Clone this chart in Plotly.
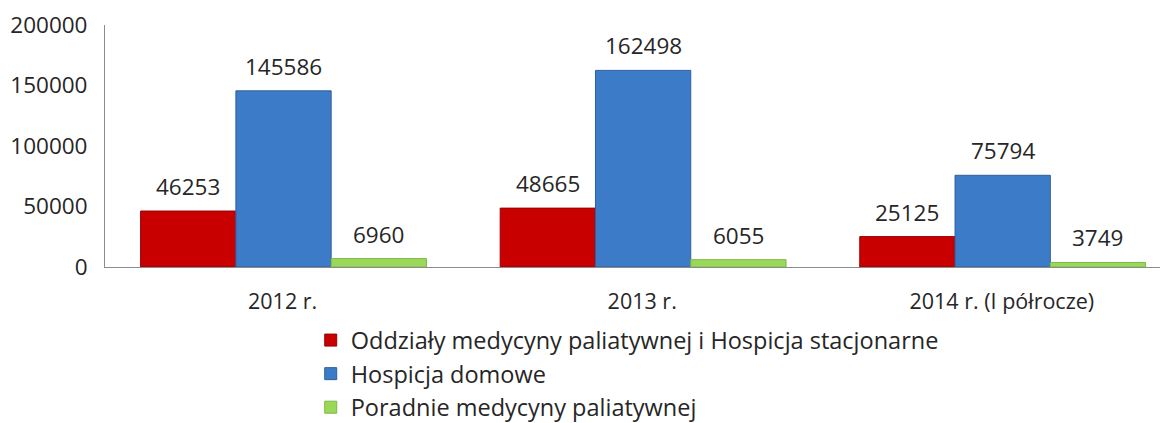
import plotly.graph_objects as go

categories = ["2012 r.", "2013 r.", "2014 r. (I półrocze)"]
series_names = [
    "Oddziały medycyny paliatywnej i Hospicja stacjonarne",
    "Hospicja domowe",
    "Poradnie medycyny paliatywnej",
]
oddzialy = [46253, 48665, 25125]
hospicja_domowe = [145586, 162498, 75794]
poradnie = [6960, 6055, 3749]
y_ticks = [0, 50000, 100000, 150000, 200000]

series_values = [oddzialy, hospicja_domowe, poradnie]
colors = ["#C80000", "#3C7BC8", "#9AD85A"]
line_colors = ["#9A0000", "#2E5F9E", "#7DB844"]
offsets = [-0.395, -0.13, 0.135]
bar_w = 0.265

FONT = "Open Sans"
TXT = "#262626"

xpos = list(range(len(categories)))
fig = go.Figure()
annotations = []
for name, vals, col, lc, off in zip(series_names, series_values, colors, line_colors, offsets):
    fig.add_trace(go.Bar(
        x=xpos, y=vals, name=name,
        width=bar_w, offset=off,
        marker=dict(color=col, line=dict(color=lc, width=1)),
        hoverinfo="skip",
    ))
    for xi, v in zip(xpos, vals):
        annotations.append(dict(
            x=xi + off + bar_w / 2, y=v, xref="x", yref="y",
            text=str(v), showarrow=False, yanchor="bottom", yshift=7,
            font=dict(family=FONT, size=22.5, color=TXT),
        ))

fig.update_layout(
    width=1167, height=423,
    margin=dict(l=105, r=7, t=25, b=156, autoexpand=False),
    paper_bgcolor="white", plot_bgcolor="white",
    barmode="overlay",
    showlegend=True,
    legend=dict(
        orientation="v",
        x=0.195, y=-0.212, xanchor="left", yanchor="top",
        font=dict(family=FONT, size=23.5, color=TXT),
        tracegroupgap=0, bgcolor="rgba(0,0,0,0)",
    ),
    annotations=annotations,
    xaxis=dict(
        range=[-0.494, 2.44], tickvals=xpos, ticktext=categories,
        showline=True, linecolor="#8C8C8C", linewidth=1,
        showgrid=False, ticks="", zeroline=False,
        ticklabelstandoff=15,
        tickfont=dict(family=FONT, size=21.5, color=TXT),
    ),
    yaxis=dict(
        range=[0, 200000], tickvals=y_ticks, ticktext=[str(t) for t in y_ticks],
        showline=True, linecolor="#8C8C8C", linewidth=1,
        showgrid=False, ticks="", zeroline=False,
        ticklabelstandoff=12,
        tickfont=dict(family=FONT, size=22.5, color=TXT),
    ),
)

fig.write_html("out.html", config={"displayModeBar": False},
               post_script="document.body.style.margin='0';")
